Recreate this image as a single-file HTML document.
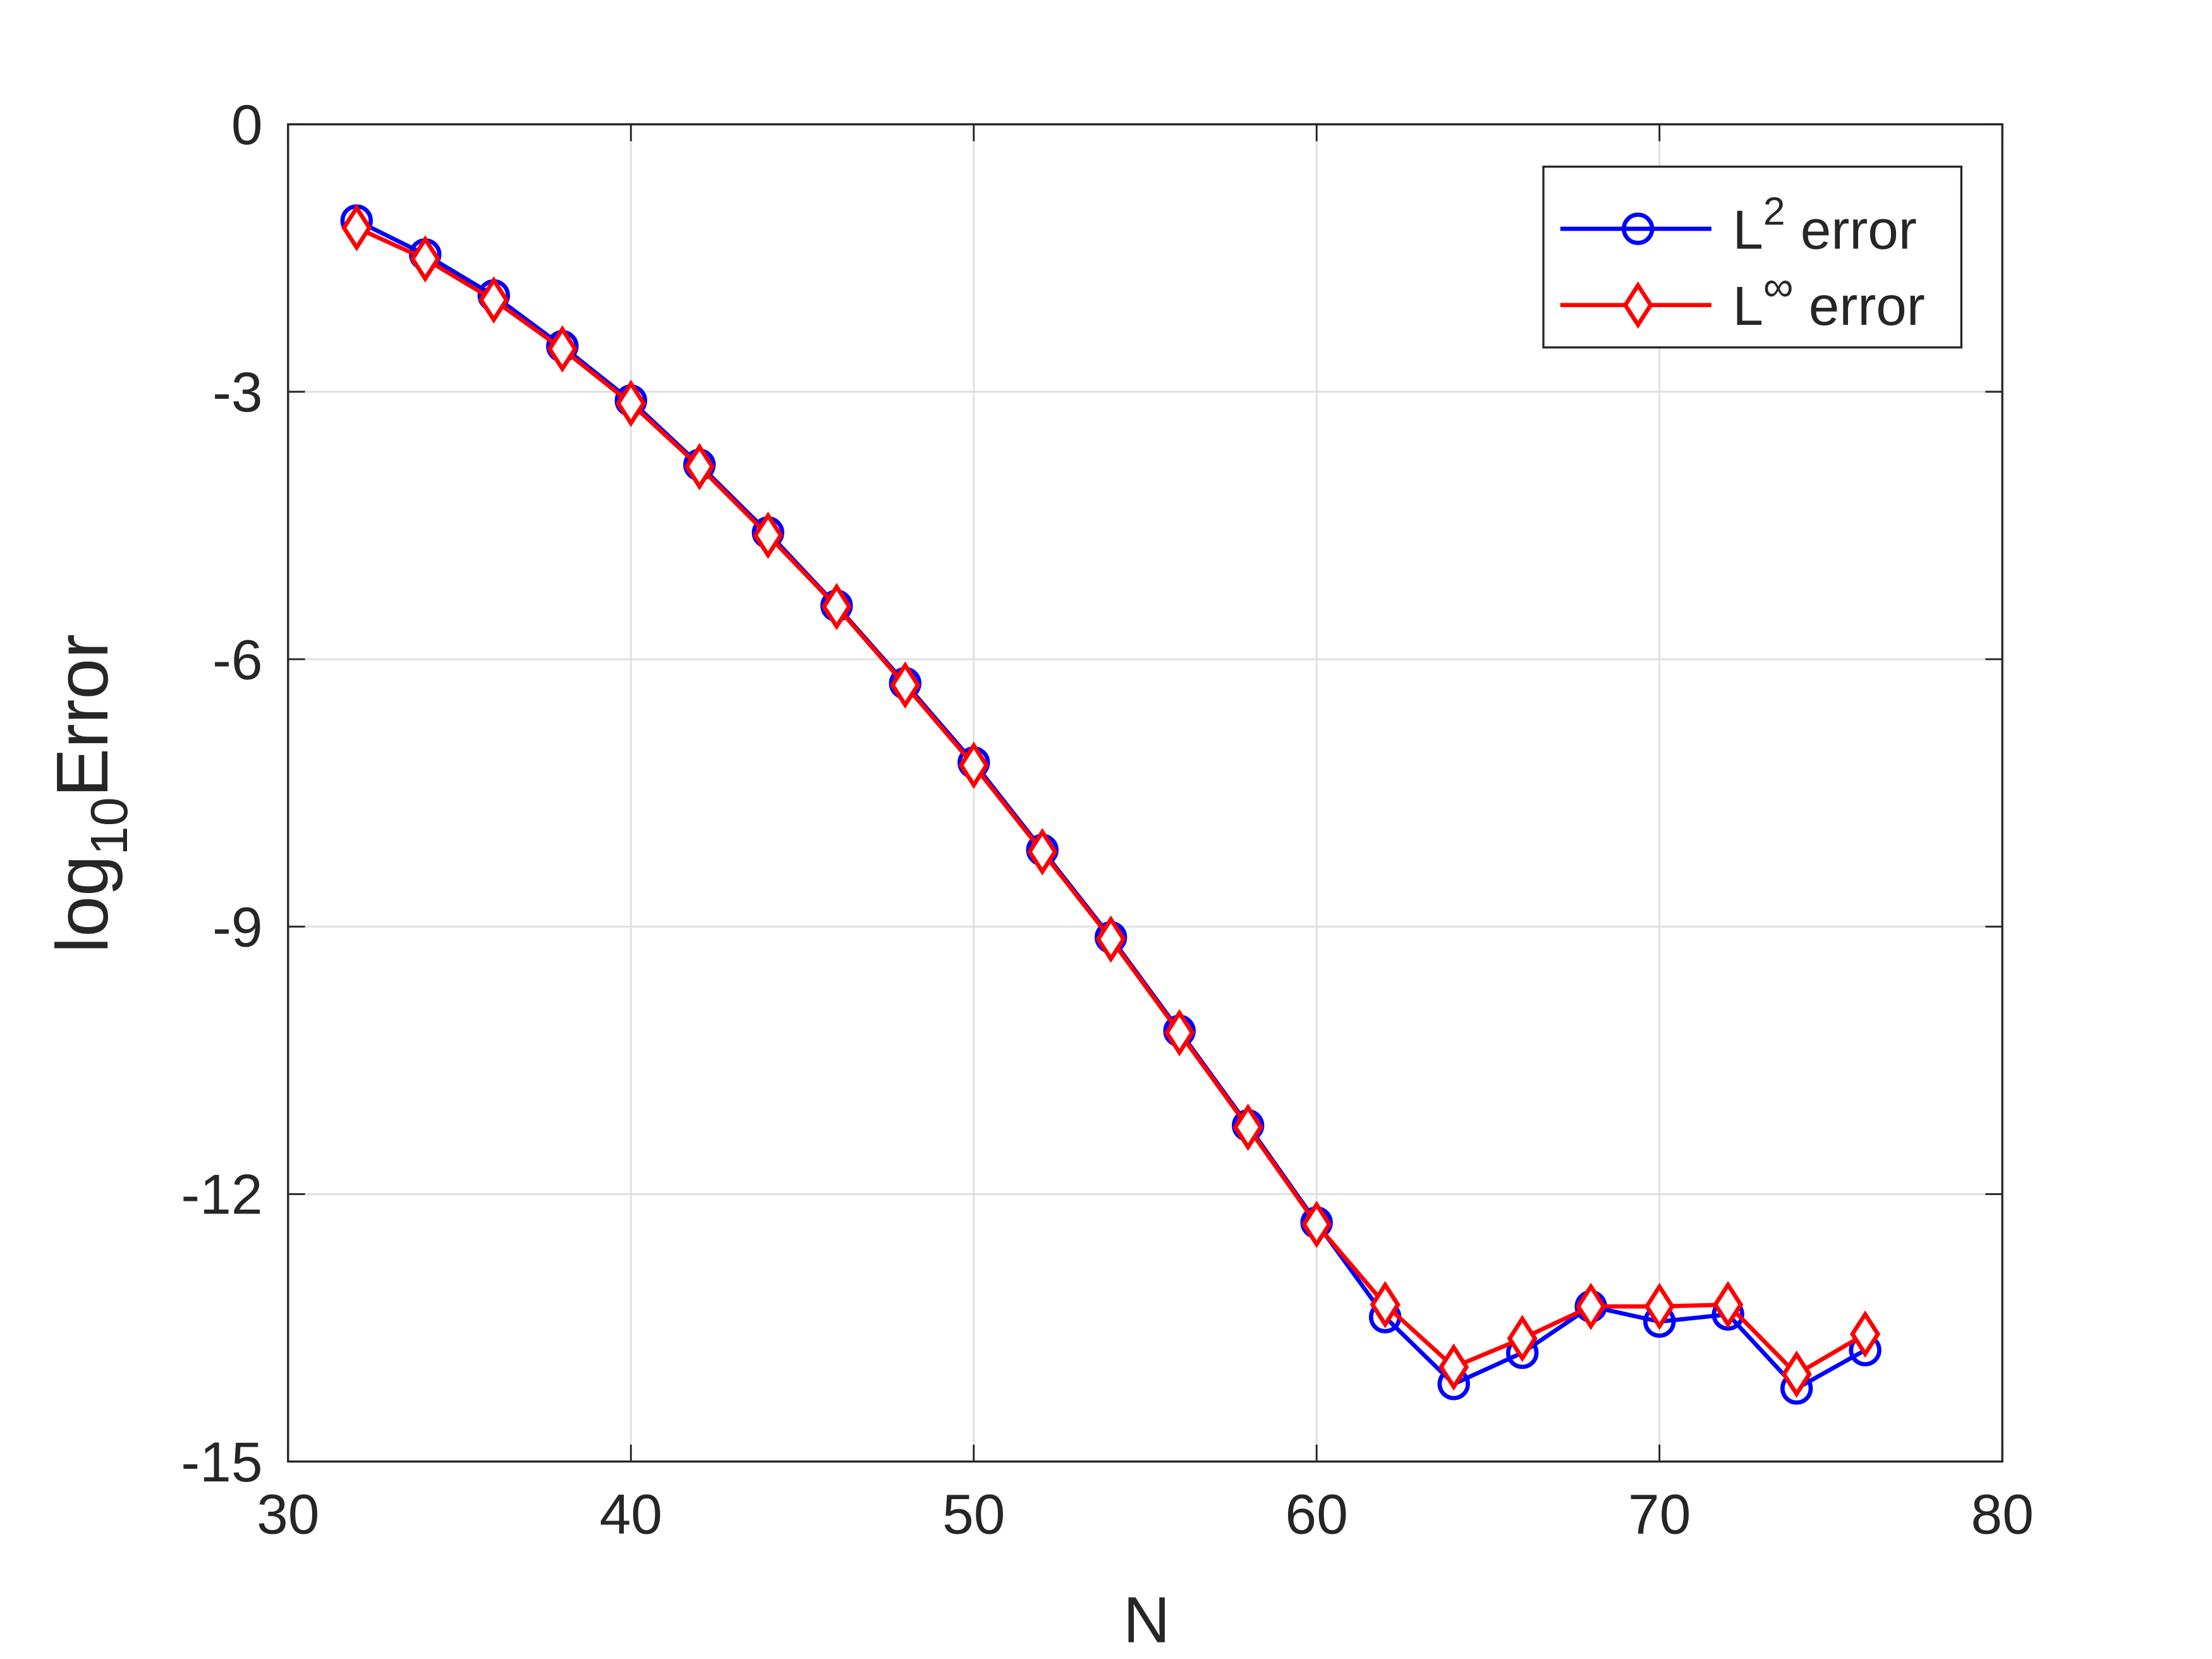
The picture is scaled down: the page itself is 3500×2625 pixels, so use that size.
<!DOCTYPE html>
<html><head><meta charset="utf-8"><style>html,body{margin:0;padding:0;background:#fff}svg{display:block}</style></head>
<body>
<svg id="chart" width="3500" height="2625" viewBox="0 0 1566.5 1174.8" xmlns="http://www.w3.org/2000/svg" font-family="'Liberation Sans', sans-serif">
<rect width="1566.5" height="1174.8" fill="#fff"/>
<g id="grid"></g>
<g id="axes"></g>
<g id="series"></g>
<text x="812" y="1163" font-size="46" text-anchor="middle" fill="#262626">N</text>
<text transform="translate(76,562) rotate(-90)" font-size="52" text-anchor="middle" fill="#262626">log<tspan font-size="37" dy="14">10</tspan><tspan dy="-14">Error</tspan></text>
<g>
<rect x="1093" y="118" width="296" height="128" fill="#fff" stroke="#262626" stroke-width="1.5"/>
<g>
<line x1="1105" y1="162" x2="1212" y2="162" stroke="#0000ff" stroke-width="3"/>
<circle cx="1160" cy="162" r="10" fill="none" stroke="#0000ff" stroke-width="3"/>
<text x="1227" y="176" font-size="39" fill="#262626">L<tspan font-size="28" dy="-17">2</tspan><tspan dy="17"> error</tspan></text>
</g>
<g>
<line x1="1105" y1="216" x2="1212" y2="216" stroke="#ff0000" stroke-width="3"/>
<polygon points="1160,202 1169,216 1160,230 1151,216" fill="#fff" stroke="#ff0000" stroke-width="3"/>
<text x="1227" y="230" font-size="39" fill="#262626">L<tspan font-size="30" dy="-17">∞</tspan><tspan dy="17"> error</tspan></text>
</g>
</g>
</svg>
<script>
const xs = [32,34,36,38,40,42,44,46,48,50,52,54,56,58,60,62,64,66,68,70,72,74,76];
const l2 = [-1.08,-1.46,-1.92,-2.49,-3.10,-3.82,-4.58,-5.40,-6.27,-7.16,-8.14,-9.12,-10.17,-11.23,-12.32,-13.38,-14.13,-13.78,-13.26,-13.43,-13.35,-14.18,-13.75];
const linf = [-1.16,-1.51,-1.97,-2.52,-3.13,-3.84,-4.61,-5.41,-6.29,-7.19,-8.16,-9.14,-10.19,-11.25,-12.34,-13.24,-13.94,-13.62,-13.26,-13.26,-13.24,-14.02,-13.57];
const xTicks = [30,40,50,60,70,80];
const yTicks = [0,-3,-6,-9,-12,-15];
const L=204,R=1418,T=88,B=1035;
const X=v=>L+(v-30)/50*(R-L);
const Y=v=>T+(0-v)/15*(B-T);
const NS='http://www.w3.org/2000/svg';
function mk(tag,attrs,parent){const e=document.createElementNS(NS,tag);for(const k in attrs)e.setAttribute(k,attrs[k]);parent.appendChild(e);return e;}
const grid=document.getElementById('grid'),axes=document.getElementById('axes'),series=document.getElementById('series');
xTicks.forEach(t=>{
  if(t>30&&t<80){const g=mk('line',{x1:X(t),x2:X(t),y1:T,y2:B,stroke:'#dfdfdf','stroke-width':1.3},grid);
  
  }
  mk('line',{x1:X(t),x2:X(t),y1:B,y2:B-12,stroke:'#262626','stroke-width':1.3},axes);
  mk('line',{x1:X(t),x2:X(t),y1:T,y2:T+12,stroke:'#262626','stroke-width':1.3},axes);
  const tx=mk('text',{x:X(t),y:B+51,'font-size':40,'text-anchor':'middle',fill:'#262626'},axes);tx.textContent=t;
  
  
});
yTicks.forEach(t=>{
  if(t<0&&t>-15){const g=mk('line',{x1:L,x2:R,y1:Y(t),y2:Y(t),stroke:'#dfdfdf','stroke-width':1.3},grid);
  
  }
  mk('line',{x1:L,x2:L+12,y1:Y(t),y2:Y(t),stroke:'#262626','stroke-width':1.3},axes);
  mk('line',{x1:R,x2:R-12,y1:Y(t),y2:Y(t),stroke:'#262626','stroke-width':1.3},axes);
  const tx=mk('text',{x:L-18,y:Y(t)+14,'font-size':40,'text-anchor':'end',fill:'#262626'},axes);tx.textContent=t;
  
  
});
mk('rect',{x:L,y:T,width:R-L,height:B-T,fill:'none',stroke:'#262626','stroke-width':1.5},axes);
function draw(vals,color,marker,name){
  const p=mk('polyline',{points:xs.map((x,i)=>X(x)+','+Y(vals[i])).join(' '),fill:'none',stroke:color,'stroke-width':3},series);
  
  
  xs.forEach((x,i)=>{
    const cx=X(x),cy=Y(vals[i]);let m;
    if(marker==='o')m=mk('circle',{cx:cx,cy:cy,r:10,fill:'none',stroke:color,'stroke-width':3},series);
    else m=mk('polygon',{points:`${cx},${cy-14} ${cx+9},${cy} ${cx},${cy+14} ${cx-9},${cy}`,fill:'#fff',stroke:color,'stroke-width':3},series);
    
    
  });
}
draw(l2,'#0000ff','o','l2-error');
draw(linf,'#ff0000','d','linf-error');
</script>
</body></html>
